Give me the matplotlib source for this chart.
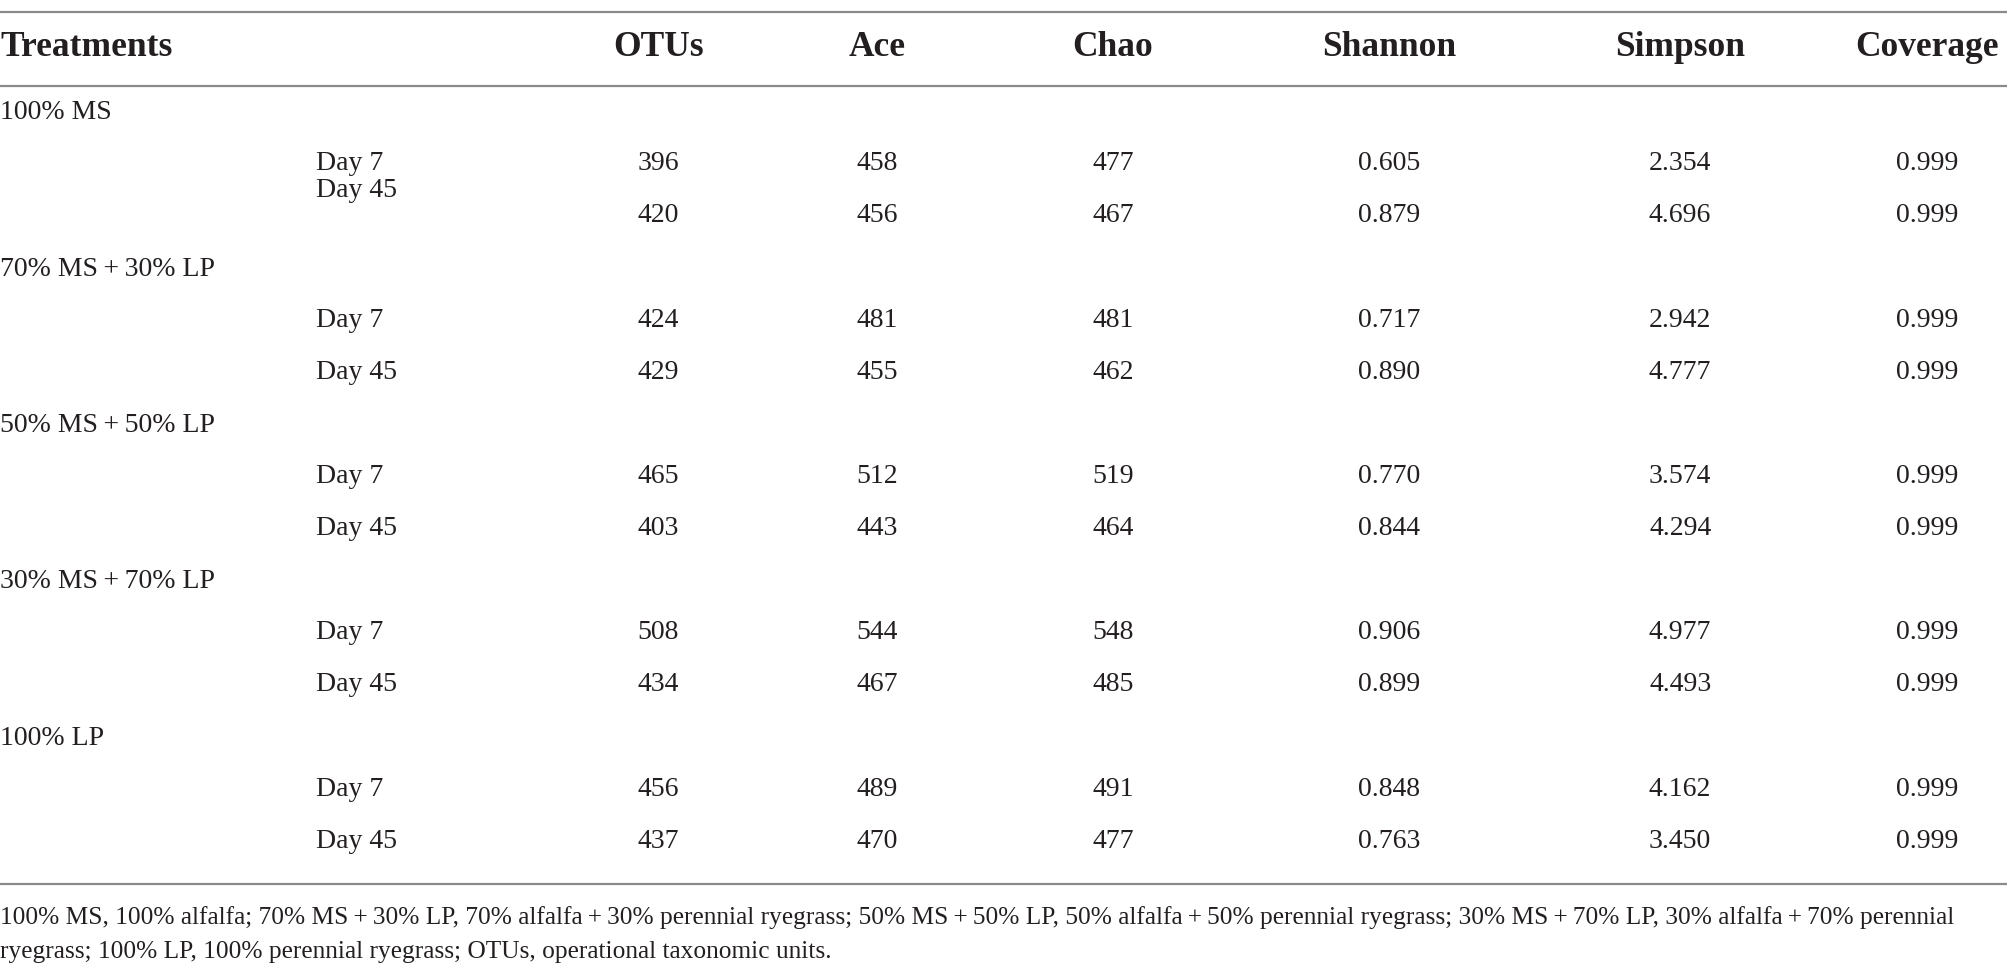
import matplotlib
matplotlib.use("Agg")
import matplotlib.pyplot as plt

plt.rcParams['font.family'] = ['Liberation Serif', 'DejaVu Serif']

# table data
columns = ["OTUs", "Ace", "Chao", "Shannon", "Simpson", "Coverage"]
treatments = ["100% MS", "70% MS\u2009+\u200930% LP", "50% MS\u2009+\u200950% LP",
              "30% MS\u2009+\u200970% LP", "100% LP"]
days = ["Day 7", "Day 45"]
otus = [[396, 420], [424, 429], [465, 403], [508, 434], [456, 437]]
ace = [[458, 456], [481, 455], [512, 443], [544, 467], [489, 470]]
chao = [[477, 467], [481, 462], [519, 464], [548, 485], [491, 477]]
shannon = [[0.605, 0.879], [0.717, 0.890], [0.770, 0.844], [0.906, 0.899], [0.848, 0.763]]
simpson = [[2.354, 4.696], [2.942, 4.777], [3.574, 4.294], [4.977, 4.493], [4.162, 3.450]]
coverage = [[0.999, 0.999]] * 5
footnote = ["100% MS, 100% alfalfa; 70% MS\u2009+\u200930% LP, 70% alfalfa\u2009+\u200930% perennial ryegrass; "
            "50% MS\u2009+\u200950% LP, 50% alfalfa\u2009+\u200950% perennial ryegrass; 30% MS\u2009+\u200970% LP, "
            "30% alfalfa\u2009+\u200970% perennial",
            "ryegrass; 100% LP, 100% perennial ryegrass; OTUs, operational taxonomic units."]

fig = plt.figure(figsize=(20.08, 9.8), dpi=100)
ax = fig.add_axes([0, 0, 1, 1])
ax.set_xlim(0, 1568)
ax.set_ylim(765, 0)
ax.axis("off")

txt = "#231f20"
body = 20
head = 25.5

# rules
for y in (9, 67, 690):
    ax.plot([0, 1568], [y, y], color="#8a8a8a", lw=1.6, solid_capstyle="butt")

# header
col_x = [514, 685, 869, 1085, 1312, 1505]
ax.text(0, 37, "Treatments", fontsize=head, fontweight="bold", color=txt, va="center", ha="left")
for x, c in zip(col_x, columns):
    ax.text(x, 37, c, fontsize=head, fontweight="bold", color=txt, va="center", ha="center")

# body rows
fmts = ["{:d}", "{:d}", "{:d}", "{:.3f}", "{:.3f}", "{:.3f}"]
series = [otus, ace, chao, shannon, simpson, coverage]
y0, dy = 87, 40.7
for g, name in enumerate(treatments):
    yg = y0 + g * 3 * dy
    ax.text(0, yg + 1, name, fontsize=body, color=txt, va="center", ha="left")
    for d, day in enumerate(days):
        yr = yg + (d + 1) * dy
        ylab = yr - 20 if (g == 0 and d == 1) else yr
        ax.text(247, ylab, day, fontsize=body, color=txt, va="center", ha="left")
        for x, f, s in zip(col_x, fmts, series):
            ax.text(x, yr, f.format(s[g][d]), fontsize=body, color=txt, va="center", ha="center")

# footnote
for i, line in enumerate(footnote):
    ax.text(0, 716 + i * 27, line, fontsize=18.3, color=txt, va="center", ha="left")

fig.savefig("out.png", dpi=100)
